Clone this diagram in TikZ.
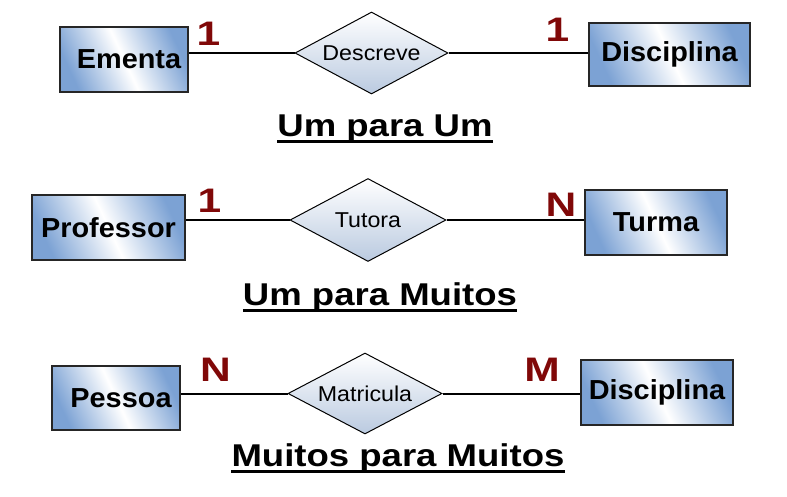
\documentclass[tikz,border=0pt]{standalone}
\usepackage{fontspec}
\usetikzlibrary{shapes.geometric}
\setmainfont{Liberation Sans}
\newfontfamily\entfont[FakeStretch=1.05]{Liberation Sans Bold}
\newfontfamily\relfont[FakeStretch=1.08]{Liberation Sans}
\newfontfamily\ttlfont[FakeStretch=1.16]{Liberation Sans Bold}
\newfontfamily\cardfont[FakeStretch=1.25]{Liberation Sans Bold}
\definecolor{boxblue}{RGB}{124,162,212}
\definecolor{diabot}{RGB}{186,202,224}
\definecolor{cardred}{RGB}{128,8,8}
\tikzset{
  entity/.style={draw=black!85, line width=1.1pt, inner sep=0pt,
    left color=boxblue, right color=boxblue, middle color=white, shading angle=115,
    font=\entfont\fontsize{27.5}{30}\selectfont},
  relation/.style={diamond, aspect=1.87, draw=black, line width=1pt, inner sep=0pt,
    top color=white, bottom color=diabot,
    font=\relfont\fontsize{21.5}{24}\selectfont},
  card/.style={inner sep=0pt, text=cardred, font=\cardfont\fontsize{34}{38}\selectfont},
  ttl/.style={inner sep=0pt, anchor=base, font=\ttlfont\fontsize{31.5}{36}\selectfont},
  link/.style={line width=2pt, black},
  uline/.style={line width=2.5pt, black}
}
\begin{document}
\begin{tikzpicture}[x=1pt,y=-1pt]
\useasboundingbox (0,0) rectangle (787,496);
% Row 1
\node[entity, minimum width=128pt, minimum height=65pt] (ementa) at (124,59.5) {\hspace*{10pt}Ementa};
\node[relation, minimum width=153pt, minimum height=82pt] (descreve) at (371.5,53) {Descreve};
\node[entity, minimum width=161pt, minimum height=63pt] (disc1) at (669.5,54.5) {Disciplina};
\draw[link] (descreve.west) -- (descreve.west -| ementa.east);
\draw[link] (descreve.east) -- (descreve.east -| disc1.west);
\node[card] (c1a) at (208.5,33.5) {1};
\node[card] (c1b) at (557.5,30) {1};
\node[ttl] (t1) at (385,136) {Um para Um};
\draw[uline] ([yshift=-5.5pt]t1.base west) -- ([yshift=-5.5pt]t1.base east);
% Row 2
\node[entity, minimum width=153pt, minimum height=65pt] (prof) at (108.5,227.5) {Professor};
\node[relation, minimum width=156pt, minimum height=83pt] (tutora) at (368,220) {Tutora};
\node[entity, minimum width=142pt, minimum height=65pt] (turma) at (656,222.5) {Turma};
\draw[link] (tutora.west) -- (tutora.west -| prof.east);
\draw[link] (tutora.east) -- (tutora.east -| turma.west);
\node[card] (c2a) at (209.5,200.5) {1};
\node[card] (c2b) at (561,205) {N};
\node[ttl] (t2) at (380,305) {Um para Muitos};
\draw[uline] ([yshift=-5.5pt]t2.base west) -- ([yshift=-5.5pt]t2.base east);
% Row 3
\node[entity, minimum width=128pt, minimum height=64pt] (pessoa) at (116,398) {\hspace*{10pt}Pessoa};
\node[relation, minimum width=154pt, minimum height=81pt] (matr) at (365,393.5) {Matricula};
\node[entity, minimum width=152pt, minimum height=65pt] (disc2) at (657,392.5) {Disciplina};
\draw[link] (matr.west) -- (matr.west -| pessoa.east);
\draw[link] (matr.east) -- (matr.east -| disc2.west);
\node[card] (c3a) at (215.5,370) {N};
\node[card] (c3b) at (542,369.5) {M};
\node[ttl] (t3) at (398,466) {Muitos para Muitos};
\draw[uline] ([yshift=-5.5pt]t3.base west) -- ([yshift=-5.5pt]t3.base east);
\end{tikzpicture}
\end{document}
